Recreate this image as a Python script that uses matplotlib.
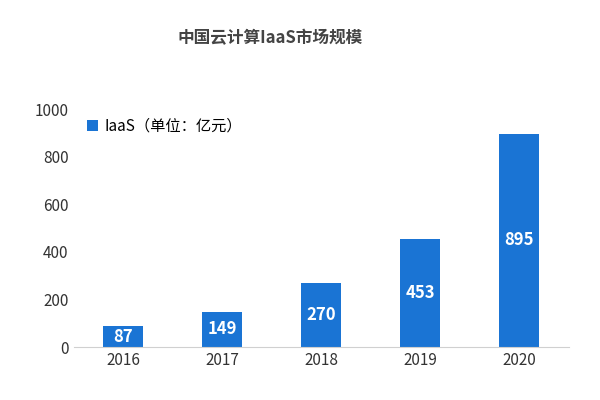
import matplotlib
matplotlib.use("Agg")
import matplotlib.pyplot as plt

plt.rcParams["font.family"] = ["Noto Sans CJK SC", "DejaVu Sans"]

years = ["2016", "2017", "2018", "2019", "2020"]
values = [87, 149, 270, 453, 895]
yticks = [0, 200, 400, 600, 800, 1000]

fig = plt.figure(figsize=(6, 4), dpi=100)
ax = fig.add_axes([0.1225, 0.1325, 0.825, 0.595])
x = range(len(years))
bars = ax.bar(x, values, width=0.4, color="#1a74d4", label="IaaS（单位：亿元）")
for xi, v in zip(x, values):
    ax.text(xi, v / 2, str(v), ha="center", va="center", color="white",
            fontsize=12, fontweight="bold")
ax.set_xlim(-0.5, 4.5)
ax.set_ylim(0, 1000)
ax.set_yticks(yticks)
ax.set_xticks(list(x))
ax.set_xticklabels(years)
ax.tick_params(length=0, labelsize=11, colors="#333333")
for s in ["top", "right", "left"]:
    ax.spines[s].set_visible(False)
ax.spines["bottom"].set_color("#d0d0d0")
ax.legend(loc="upper left", bbox_to_anchor=(0.0, 1.02), frameon=False,
          fontsize=11, handlelength=0.7, handleheight=0.7, handletextpad=0.4)
fig.text(0.45, 0.905, "中国云计算IaaS市场规模", ha="center", va="center",
         fontsize=12, fontweight="bold", color="#444444")
fig.savefig("out.png")
